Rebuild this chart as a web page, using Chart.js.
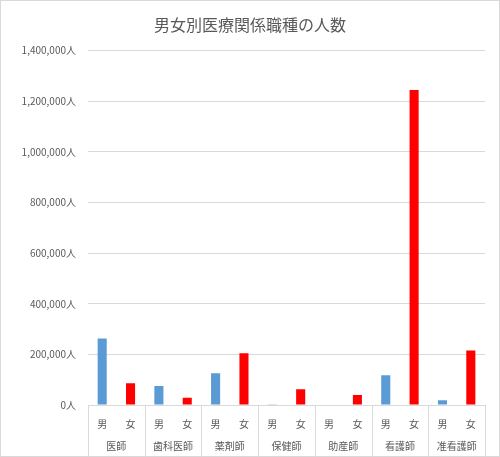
<!DOCTYPE html>
<html>
<head>
<meta charset="utf-8">
<script src="https://cdn.jsdelivr.net/npm/chart.js@4/dist/chart.umd.min.js"></script>
<style>
html,body{margin:0;padding:0;background:#fff;}
#wrap{width:500px;height:457px;position:relative;}
</style>
</head>
<body>
<div id="wrap"><canvas id="c"></canvas></div>
<script>
const professions = ['医師','歯科医師','薬剤師','保健師','助産師','看護師','准看護師'];
const sexes = ['男','女'];
const maleCounts = [263000, 75000, 125000, 2500, 0, 118000, 18500];
const femaleCounts = [86000, 29000, 204000, 62000, 39500, 1245000, 215000];
const yTicks = [0, 200000, 400000, 600000, 800000, 1000000, 1200000, 1400000];
const maleColor = '#5b9bd5';
const femaleColor = '#ff0000';

const labels = [];
const values = [];
const colors = [];
professions.forEach((p, i) => {
  labels.push(sexes[0]); values.push(maleCounts[i]); colors.push(maleColor);
  labels.push(sexes[1]); values.push(femaleCounts[i]); colors.push(femaleColor);
});

const textColor = '#595959';
const gridColor = '#d9d9d9';
const fontFamily = '"Noto Sans CJK JP", "Noto Sans", sans-serif';

const groupPlugin = {
  id: 'groupPlugin',
  beforeDraw(chart) {
    const ctx = chart.ctx;
    ctx.save();
    ctx.fillStyle = '#ffffff';
    ctx.fillRect(0, 0, chart.width, chart.height);
    ctx.restore();
  },
  afterDraw(chart) {
    const ctx = chart.ctx;
    const x = chart.scales.x;
    const area = chart.chartArea;
    const half = (x.getPixelForValue(1) - x.getPixelForValue(0)) / 2;
    ctx.save();
    ctx.strokeStyle = gridColor;
    ctx.lineWidth = 1;
    for (let k = 0; k <= professions.length; k++) {
      const px = Math.round(k < professions.length ? x.getPixelForValue(2 * k) - half : x.getPixelForValue(2 * k - 1) + half) + 0.5;
      ctx.beginPath();
      ctx.moveTo(px, area.bottom);
      ctx.lineTo(px, chart.height - 1);
      ctx.stroke();
    }
    ctx.fillStyle = textColor;
    ctx.font = '10px ' + fontFamily;
    ctx.textAlign = 'center';
    ctx.textBaseline = 'middle';
    professions.forEach((p, k) => {
      const cx = (x.getPixelForValue(2 * k) + x.getPixelForValue(2 * k + 1)) / 2;
      ctx.fillText(p, cx, area.bottom + 41);
    });
    ctx.strokeStyle = gridColor;
    ctx.strokeRect(0.5, 0.5, chart.width - 1, chart.height - 1);
    ctx.restore();
  }
};

new Chart(document.getElementById('c'), {
  type: 'bar',
  data: {
    labels: labels,
    datasets: [{
      data: values,
      backgroundColor: colors,
      borderWidth: 0,
      categoryPercentage: 1,
      barPercentage: 0.32
    }]
  },
  options: {
    responsive: true,
    maintainAspectRatio: false,
    animation: false,
    devicePixelRatio: 1,
    layout: { padding: { left: 15, right: 15, top: 0, bottom: 0 } },
    plugins: {
      legend: { display: false },
      tooltip: { enabled: false },
      title: {
        display: true,
        text: '男女別医療関係職種の人数',
        color: textColor,
        font: { family: fontFamily, size: 16, weight: 'normal' },
        padding: { top: 15, bottom: 16.5 }
      }
    },
    scales: {
      x: {
        type: 'category',
        grid: { display: false },
        border: { display: true, color: gridColor },
        ticks: {
          color: textColor,
          font: { family: fontFamily, size: 10 },
          padding: 5,
          maxRotation: 0,
          autoSkip: false
        },
        afterFit(scale) { scale.height = 52; }
      },
      y: {
        min: 0,
        max: 1400000,
        afterBuildTicks(scale) { scale.ticks = yTicks.map(v => ({ value: v })); },
        grid: { color: gridColor, drawTicks: false },
        border: { display: false },
        ticks: {
          color: textColor,
          font: { family: fontFamily, size: 10 },
          padding: 12,
          callback: v => Number(v).toLocaleString('en-US') + '人'
        },
        afterFit(scale) { scale.width = 73; }
      }
    }
  },
  plugins: [groupPlugin]
});
</script>
</body>
</html>
